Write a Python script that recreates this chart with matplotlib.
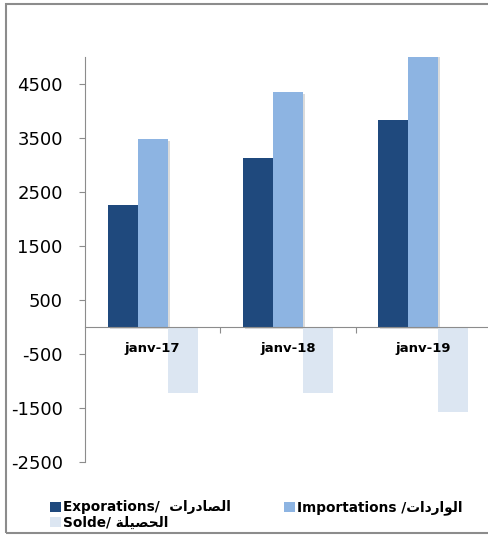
import matplotlib
matplotlib.use("Agg")
import matplotlib.pyplot as plt
import matplotlib.patheffects as pe
from matplotlib.patches import Rectangle, Patch
import numpy as np

plt.rcParams['axes.unicode_minus'] = False

# data
categories = ['janv-17', 'janv-18', 'janv-19']
exports = [2260, 3130, 3830]
imports = [3480, 4350, 5400]
solde = [-1220, -1220, -1570]
y_ticks = [-2500, -1500, -500, 500, 1500, 2500, 3500, 4500]

# arabic letters -> (isolated, final, initial, medial), None = joins only on the right side
AR_FORMS = {
    'ا': ('\uFE8D', '\uFE8E', None, None),
    'ل': ('\uFEDD', '\uFEDE', '\uFEDF', '\uFEE0'),
    'ص': ('\uFEB9', '\uFEBA', '\uFEBB', '\uFEBC'),
    'د': ('\uFEA9', '\uFEAA', None, None),
    'ر': ('\uFEAD', '\uFEAE', None, None),
    'ت': ('\uFE95', '\uFE96', '\uFE97', '\uFE98'),
    'و': ('\uFEED', '\uFEEE', None, None),
    'ح': ('\uFEA1', '\uFEA2', '\uFEA3', '\uFEA4'),
    'ي': ('\uFEF1', '\uFEF2', '\uFEF3', '\uFEF4'),
    'ة': ('\uFE93', '\uFE94', None, None),
}


def shape_ar(word):
    # join letters and put them in visual (left to right) order
    out = []
    n = len(word)
    for i, ch in enumerate(word):
        f = AR_FORMS[ch]
        prev_ok = i > 0 and AR_FORMS[word[i - 1]][2] is not None
        next_ok = i < n - 1 and f[2] is not None
        if prev_ok and next_ok:
            out.append(f[3])
        elif prev_ok:
            out.append(f[1])
        elif next_ok:
            out.append(f[2])
        else:
            out.append(f[0])
    return ''.join(reversed(out))


labels = ['Exporations/  ' + shape_ar('الصادرات'),
          'Importations /' + shape_ar('الواردات'),
          'Solde/ ' + shape_ar('الحصيلة')]
colors = ['#1F497D', '#8DB4E2', '#DCE6F2']

fig = plt.figure(figsize=(4.88, 5.37), dpi=100)
ax = fig.add_axes([85 / 488, 1 - 462 / 537, 406 / 488, 405 / 537])
ax.set_axisbelow(False)

x = np.arange(len(categories))
w = 0.222
shadow = [pe.SimplePatchShadow(offset=(1.5, -1.5), shadow_rgbFace='#999999', alpha=0.35), pe.Normal()]
ax.bar(x - w, exports, w, color=colors[0], path_effects=shadow, zorder=1)
ax.bar(x, imports, w, color=colors[1], path_effects=shadow, zorder=1)
ax.bar(x + w, solde, w, color=colors[2], zorder=1)

ax.set_xlim(-0.5, 2.5)
ax.set_ylim(-2500, 5000)

for s in ['top', 'right']:
    ax.spines[s].set_visible(False)
ax.spines['bottom'].set_position(('data', 0))
ax.spines['bottom'].set_color('#8c8c8c')
ax.spines['left'].set_color('#8c8c8c')

ax.set_yticks(y_ticks)
ax.set_yticklabels([str(v) for v in y_ticks], fontsize=13)
ax.tick_params(axis='y', direction='out', length=4, color='#8c8c8c', pad=12)

ax.set_xticks([0.5, 1.5, 2.5])
ax.set_xticklabels([])
ax.tick_params(axis='x', which='major', direction='out', length=4, color='#8c8c8c')
ax.set_xticks(x, minor=True)
ax.set_xticklabels(categories, minor=True, fontsize=9.5, fontweight='bold')
ax.tick_params(axis='x', which='minor', length=0, pad=11)

# legend fills column by column, so order gives rows: exports, imports / solde
order = [0, 2, 1]
handles = [Patch(facecolor=colors[i]) for i in order]
fig.legend(handles, [labels[i] for i in order], loc='upper left',
           bbox_to_anchor=(45 / 488, 1 - 495 / 537),
           ncol=2, frameon=False, handlelength=0.8, handleheight=0.8, handletextpad=0.15,
           columnspacing=3.9, labelspacing=0.1, borderaxespad=0,
           prop={'family': 'DejaVu Sans', 'weight': 'bold', 'size': 9.8})

# outer chart border
fig.patches.append(Rectangle((6 / 488, 1 - 533 / 537), 1.0, 529 / 537, transform=fig.transFigure,
                             fill=False, edgecolor='#8c8c8c', linewidth=1.5))

fig.savefig('out.png', dpi=100)
